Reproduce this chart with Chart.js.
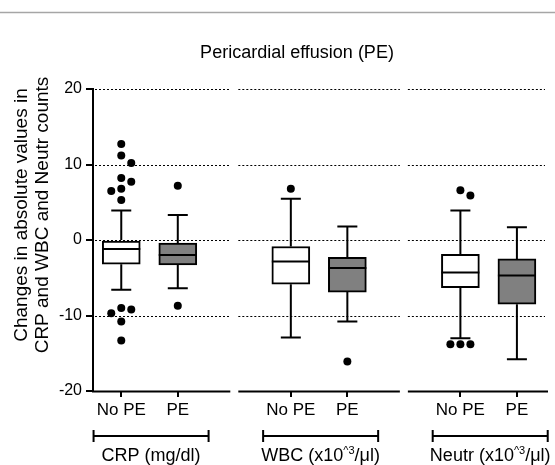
<!DOCTYPE html>
<html><head><meta charset="utf-8">
<script src="https://cdn.jsdelivr.net/npm/chart.js@4/dist/chart.umd.min.js"></script>
<style>html,body{margin:0;padding:0;background:#fff;}canvas{display:block;}</style>
</head><body>
<canvas id="c" width="555" height="465"></canvas>
<script>
// ---------- data ----------
const chartTitle = 'Pericardial effusion (PE)';
const yTitle = ['Changes in absolute values in', 'CRP and WBC and Neutr counts'];
const groups = ['CRP (mg/dl)', 'WBC (x10^3/\u03bcl)', 'Neutr (x10^3/\u03bcl)'];
const conditions = ['No PE', 'PE'];
const yTicks = [-20, -10, 0, 10, 20];
const gridValues = [20, 10, 0, -10];
// box order: CRP NoPE, CRP PE, WBC NoPE, WBC PE, Neutr NoPE, Neutr PE
const whiskerLow  = [-6.6, -6.4, -12.9, -10.8, -13.0, -15.8];
const q1          = [-3.2, -3.3, -5.85, -6.9, -6.3, -8.5];
const median      = [-1.2, -2.0, -2.85, -3.7, -4.3, -4.7];
const q3          = [0.0, -0.4, -0.86, -2.3, -1.9, -2.5];
const whiskerHigh = [3.9, 3.3, 5.45, 1.8, 3.9, 1.7];
const outliers = [
  [12.7, 11.2, 10.2, 8.2, 7.7, 6.8, 6.5, 5.3, -9.0, -9.2, -9.7, -10.8, -13.3],
  [7.2, -8.7],
  [6.8],
  [-16.1],
  [6.6, 5.9, -13.8, -13.8, -13.8],
  []
];

// ---------- layout helpers ----------
const FAMILY = '"Liberation Sans", Arial, Helvetica, sans-serif';
const PX_X = 56.5, PX_Y = 7.55;          // approx px per unit, for swarm spacing only
const BOX_HALF = 19 / PX_X, CAP_HALF = 10 / PX_X;
const xPos = median.map((_, i) => Math.floor(i / 2) * 3 + (i % 2));
const boxColors = median.map((_, i) => i % 2 ? '#808080' : '#ffffff');

function swarm(vals, cx) {
  const DOT = 9.5, STEP = 10, placed = [];
  [...vals].sort((a, b) => b - a).forEach(v => {
    for (const k of [0, 1, -1, 2, -2]) {
      if (placed.every(p => Math.hypot((p.k - k) * STEP, (p.v - v) * PX_Y) >= DOT)) { placed.push({v, k}); break; }
    }
  });
  return placed.map(p => ({x: cx + p.k * STEP / PX_X, y: p.v}));
}

const boxData = xPos.map((x, i) => ({x, y: [q1[i], q3[i]]}));
const gap = {x: null, y: null};
const whiskerData = [];
const medianData = [];
xPos.forEach((x, i) => {
  whiskerData.push({x, y: q3[i]}, {x, y: whiskerHigh[i]}, gap,
                   {x, y: q1[i]}, {x, y: whiskerLow[i]}, gap,
                   {x: x - CAP_HALF, y: whiskerHigh[i]}, {x: x + CAP_HALF, y: whiskerHigh[i]}, gap,
                   {x: x - CAP_HALF, y: whiskerLow[i]}, {x: x + CAP_HALF, y: whiskerLow[i]}, gap);
  medianData.push({x: x - BOX_HALF, y: median[i]}, {x: x + BOX_HALF, y: median[i]}, gap);
});
const outlierData = xPos.flatMap((x, i) => swarm(outliers[i], x));

// ---------- decorations ----------
function drawRich(ctx, text, cx, y, size) {
  const items = text.split(/(\^\d+)/).filter(Boolean).map(t => ({t, sup: t[0] === '^'}));
  let total = 0;
  items.forEach(it => { ctx.font = (it.sup ? Math.round(size * 0.62) : size) + 'px ' + FAMILY; it.w = ctx.measureText(it.t).width; total += it.w; });
  let x = cx - total / 2;
  items.forEach(it => {
    ctx.font = (it.sup ? Math.round(size * 0.62) : size) + 'px ' + FAMILY;
    ctx.fillText(it.t, x, it.sup ? y - size * 0.4 : y);
    x += it.w;
  });
}

const deco = {
  id: 'deco',
  beforeDatasetsDraw(chart) {
    const {ctx, chartArea: a, scales: {x, y}} = chart;
    ctx.save();
    ctx.strokeStyle = '#000'; ctx.lineWidth = 1; ctx.setLineDash([2, 2]);
    const gaps = [2, 5].map(v => x.getPixelForValue(v));
    gridValues.forEach(v => {
      const py = Math.round(y.getPixelForValue(v)) + 0.5;
      const xs = [a.left + 2, gaps[0] - 4, gaps[0] + 4, gaps[1] - 4, gaps[1] + 4, a.right - 3];
      for (let k = 0; k < xs.length; k += 2) { ctx.beginPath(); ctx.moveTo(xs[k], py); ctx.lineTo(xs[k + 1], py); ctx.stroke(); }
    });
    ctx.restore();
  },
  afterDraw(chart) {
    const {ctx, chartArea: a, scales: {x}} = chart;
    ctx.save();
    // top rule
    ctx.strokeStyle = '#a6a6a6'; ctx.lineWidth = 1.5;
    ctx.beginPath(); ctx.moveTo(0, 12.5); ctx.lineTo(555, 12.5); ctx.stroke();
    // broken x axis line
    ctx.strokeStyle = '#000'; ctx.lineWidth = 2;
    const gaps = [2, 5].map(v => x.getPixelForValue(v));
    const xs = [a.left - 1, gaps[0] - 4, gaps[0] + 4, gaps[1] - 4, gaps[1] + 4, a.right];
    const by = a.bottom + 0.5;
    for (let k = 0; k < xs.length; k += 2) { ctx.beginPath(); ctx.moveTo(xs[k], by); ctx.lineTo(xs[k + 1], by); ctx.stroke(); }
    // brackets + group labels
    ctx.fillStyle = '#000';
    ctx.textBaseline = 'alphabetic'; ctx.textAlign = 'left';
    groups.forEach((g, gi) => {
      const x0 = x.getPixelForValue(xPos[gi * 2] - 0.49), x1 = x.getPixelForValue(xPos[gi * 2 + 1] + 0.545);
      const yb = 436;
      ctx.beginPath(); ctx.moveTo(x0, yb); ctx.lineTo(x1, yb);
      ctx.moveTo(x0, yb - 6); ctx.lineTo(x0, yb + 6);
      ctx.moveTo(x1, yb - 6); ctx.lineTo(x1, yb + 6); ctx.stroke();
      drawRich(ctx, g, (x0 + x1) / 2, 461, 18);
    });
    // title
    ctx.textAlign = 'center';
    ctx.font = '18px ' + FAMILY;
    ctx.fillText(chartTitle, 297, 58);
    // y title
    ctx.translate(0, 215); ctx.rotate(-Math.PI / 2);
    ctx.font = '19px ' + FAMILY;
    ctx.fillText(yTitle[0], 0, 27);
    ctx.fillText(yTitle[1], 0, 48);
    ctx.restore();
  }
};

new Chart(document.getElementById('c'), {
  type: 'bar',
  data: {
    datasets: [
      {type: 'scatter', data: outlierData, pointRadius: 4, pointHoverRadius: 4, backgroundColor: '#000', borderWidth: 0, order: 0},
      {type: 'line', data: medianData, borderColor: '#000', borderWidth: 2, pointRadius: 0, spanGaps: false, borderCapStyle: 'butt', order: 1},
      {type: 'bar', data: boxData, backgroundColor: boxColors, borderColor: '#000', borderWidth: 2, borderSkipped: false, barThickness: 38, order: 2},
      {type: 'line', data: whiskerData, borderColor: '#000', borderWidth: 2, pointRadius: 0, spanGaps: false, borderCapStyle: 'butt', order: 3}
    ]
  },
  options: {
    responsive: false, animation: false, devicePixelRatio: 1,
    layout: {padding: {top: 89, right: 7, left: 0, bottom: 0}},
    plugins: {legend: {display: false}, tooltip: {enabled: false}, title: {display: false}},
    scales: {
      x: {
        type: 'linear', min: -0.5, max: 7.55, offset: false,
        afterBuildTicks: s => { s.ticks = xPos.map(v => ({value: v})); },
        afterFit: s => { s.height = 74; },
        border: {display: false},
        grid: {drawOnChartArea: false, drawTicks: true, tickLength: 6, color: '#000', lineWidth: 2, offset: false},
        ticks: {autoSkip: false, maxRotation: 0, minRotation: 0, color: '#000', padding: 3,
                font: {size: 17, family: FAMILY}},
      },
      y: {
        min: -20, max: 20,
        afterBuildTicks: s => { s.ticks = yTicks.map(v => ({value: v})); },
        afterFit: s => { s.width = 93; },
        border: {display: true, color: '#000', width: 2},
        grid: {drawOnChartArea: false, drawTicks: true, tickLength: 7, color: '#000', lineWidth: 2},
        ticks: {color: '#000', padding: 4, font: {size: 16, family: FAMILY}}
      }
    }
  },
  plugins: [deco]
});
Chart.instances[0].options.scales.x.ticks.callback = v => conditions[xPos.indexOf(v) % 2];
Chart.instances[0].update('none');
</script>
</body></html>
